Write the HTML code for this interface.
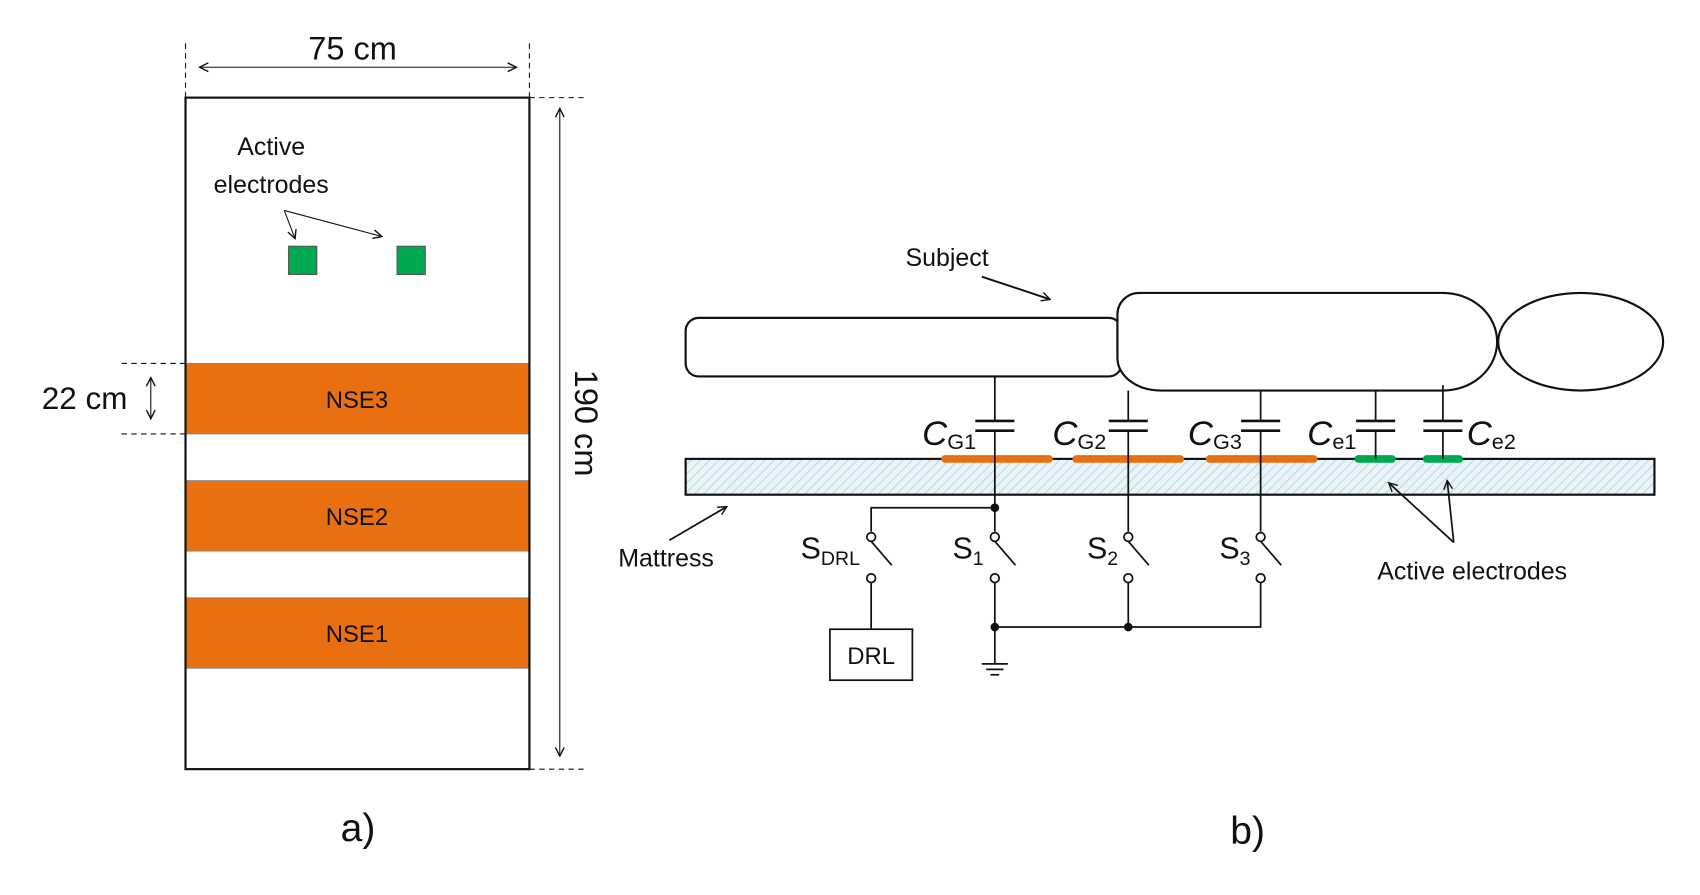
<!DOCTYPE html>
<html><head><meta charset="utf-8"><style>
html,body{margin:0;padding:0;background:#fff}
svg{display:block}
text{font-family:"Liberation Sans",sans-serif;fill:#111}
</style></head><body>
<svg width="1700" height="895" viewBox="0 0 1567 825" preserveAspectRatio="none" xmlns="http://www.w3.org/2000/svg">
<defs>
<pattern id="h" width="6" height="6" patternUnits="userSpaceOnUse" patternTransform="rotate(45)">
<rect width="6" height="6" fill="#eaf4f8"/><line x1="0" y1="0" x2="0" y2="6" stroke="#b8d8e6" stroke-width="2"/>
</pattern>
<marker id="a" markerWidth="10" markerHeight="10" refX="9" refY="5" orient="auto" markerUnits="userSpaceOnUse"><path d="M1,1 L9,5 L1,9" fill="none" stroke="#111" stroke-width="1.3"/></marker>
<marker id="as" markerWidth="10" markerHeight="10" refX="1" refY="5" orient="auto" markerUnits="userSpaceOnUse"><path d="M9,1 L1,5 L9,9" fill="none" stroke="#111" stroke-width="1.3"/></marker>
</defs>
<g stroke="#111" fill="none">
<line x1="171" y1="40" x2="171" y2="90" stroke-dasharray="5,4"/>
<line x1="488" y1="40" x2="488" y2="90" stroke-dasharray="5,4"/>
<line x1="184" y1="62" x2="476" y2="62" marker-start="url(#as)" marker-end="url(#a)"/>
<line x1="488" y1="90" x2="542" y2="90" stroke-dasharray="5,4"/>
<line x1="488" y1="709" x2="542" y2="709" stroke-dasharray="5,4"/>
<line x1="516" y1="100" x2="516" y2="697" marker-start="url(#as)" marker-end="url(#a)"/>
<rect x="171" y="335" width="317" height="65" fill="#e87010" stroke="#888" stroke-width="0.8"/>
<rect x="171" y="443" width="317" height="65" fill="#e87010" stroke="#888" stroke-width="0.8"/>
<rect x="171" y="551" width="317" height="65" fill="#e87010" stroke="#888" stroke-width="0.8"/>
<rect x="171" y="90" width="317" height="619" stroke-width="2"/>
<line x1="112" y1="335" x2="171" y2="335" stroke-dasharray="5,4"/>
<line x1="112" y1="400" x2="171" y2="400" stroke-dasharray="5,4"/>
<line x1="139" y1="348" x2="139" y2="386" marker-start="url(#as)" marker-end="url(#a)"/>
<rect x="266" y="227" width="26" height="26" fill="#00a84f" stroke="#555"/>
<rect x="366" y="227" width="26" height="26" fill="#00a84f" stroke="#555"/>
<polyline points="262,194 352,218" marker-end="url(#a)"/>
<line x1="262" y1="194" x2="272" y2="220" marker-end="url(#a)"/>
<rect x="632" y="293" width="402" height="54" rx="12" stroke-width="2" fill="#fff"/>
<path d="M1050,270 H1330 A50,45 0 0 1 1330,360 H1070 A40,30 0 0 1 1030,330 V290 A20,20 0 0 1 1050,270 Z" stroke-width="2" fill="#fff"/>
<ellipse cx="1457" cy="315" rx="76" ry="45" stroke-width="2"/>
<line x1="905" y1="255" x2="968" y2="276" stroke-width="1.8" marker-end="url(#a)"/>
<rect x="632" y="423" width="893" height="33" fill="url(#h)" stroke-width="2"/>
<g stroke-width="7" stroke-linecap="round">
<line x1="871" y1="423" x2="967" y2="423" stroke="#e87010"/>
<line x1="992" y1="423" x2="1088" y2="423" stroke="#e87010"/>
<line x1="1115" y1="423" x2="1211" y2="423" stroke="#e87010"/>
<line x1="1252" y1="423" x2="1283" y2="423" stroke="#00a84f"/>
<line x1="1315" y1="423" x2="1345" y2="423" stroke="#00a84f"/>
</g>
<g stroke-width="1.6">
<line x1="917" y1="347" x2="917" y2="388"/><line x1="917" y1="397" x2="917" y2="490"/>
<line x1="1040" y1="360" x2="1040" y2="388"/><line x1="1040" y1="397" x2="1040" y2="490"/>
<line x1="1162" y1="360" x2="1162" y2="388"/><line x1="1162" y1="397" x2="1162" y2="490"/>
<line x1="1268" y1="360" x2="1268" y2="388"/><line x1="1268" y1="397" x2="1268" y2="423"/>
<line x1="1330" y1="355" x2="1330" y2="388"/><line x1="1330" y1="397" x2="1330" y2="423"/>
</g>
<g stroke-width="2.5">
<line x1="899" y1="388" x2="935" y2="388"/><line x1="899" y1="397" x2="935" y2="397"/>
<line x1="1022" y1="388" x2="1058" y2="388"/><line x1="1022" y1="397" x2="1058" y2="397"/>
<line x1="1144" y1="388" x2="1180" y2="388"/><line x1="1144" y1="397" x2="1180" y2="397"/>
<line x1="1250" y1="388" x2="1286" y2="388"/><line x1="1250" y1="397" x2="1286" y2="397"/>
<line x1="1312" y1="388" x2="1348" y2="388"/><line x1="1312" y1="397" x2="1348" y2="397"/>
</g>
<g stroke-width="1.6">
<polyline points="917,468 803,468 803,490"/>
<line x1="803" y1="499" x2="822" y2="521"/><line x1="917" y1="499" x2="936" y2="521"/>
<line x1="1040" y1="499" x2="1059" y2="521"/><line x1="1162" y1="499" x2="1181" y2="521"/>
<circle cx="803" cy="495" r="4" fill="#fff"/><circle cx="917" cy="495" r="4" fill="#fff"/>
<circle cx="1040" cy="495" r="4" fill="#fff"/><circle cx="1162" cy="495" r="4" fill="#fff"/>
<circle cx="803" cy="533" r="4" fill="#fff"/><circle cx="917" cy="533" r="4" fill="#fff"/>
<circle cx="1040" cy="533" r="4" fill="#fff"/><circle cx="1162" cy="533" r="4" fill="#fff"/>
<line x1="803" y1="537" x2="803" y2="580"/>
<line x1="917" y1="537" x2="917" y2="612"/>
<line x1="1040" y1="537" x2="1040" y2="578"/>
<polyline points="1162,537 1162,578 917,578"/>
<line x1="905" y1="612" x2="929" y2="612"/><line x1="909" y1="617" x2="925" y2="617"/><line x1="913" y1="622" x2="921" y2="622"/>
</g>
<circle cx="917" cy="468" r="3.5" fill="#111"/><circle cx="917" cy="578" r="3.5" fill="#111"/><circle cx="1040" cy="578" r="3.5" fill="#111"/>
<rect x="765" y="580" width="76" height="47" stroke-width="1.6"/>
<line x1="617" y1="498" x2="670" y2="467" stroke-width="1.6" marker-end="url(#a)"/>
<line x1="1340" y1="500" x2="1280" y2="445" stroke-width="1.6" marker-end="url(#a)"/>
<line x1="1340" y1="500" x2="1334" y2="443" stroke-width="1.6" marker-end="url(#a)"/>
</g>
<text x="325" y="55" font-size="30" text-anchor="middle">75 cm</text>
<text x="250" y="143" font-size="23" text-anchor="middle">Active</text>
<text x="250" y="178" font-size="23" text-anchor="middle">electrodes</text>
<text x="329" y="376" font-size="22" text-anchor="middle">NSE3</text>
<text x="329" y="484" font-size="22" text-anchor="middle">NSE2</text>
<text x="329" y="592" font-size="22" text-anchor="middle">NSE1</text>
<text x="78" y="377" font-size="29" text-anchor="middle">22 cm</text>
<text transform="translate(530,390) rotate(90)" font-size="30" text-anchor="middle">190 cm</text>
<text x="330" y="775" font-size="36" text-anchor="middle">a)</text>
<text x="1150" y="778" font-size="36" text-anchor="middle">b)</text>
<text x="873" y="245" font-size="23" text-anchor="middle">Subject</text>
<text x="614" y="522" font-size="23" text-anchor="middle">Mattress</text>
<text x="1357" y="534" font-size="23" text-anchor="middle">Active electrodes</text>
<text x="850" y="410" font-size="32" font-style="italic">C<tspan font-size="20" font-style="normal" dy="4">G1</tspan></text>
<text x="970" y="410" font-size="32" font-style="italic">C<tspan font-size="20" font-style="normal" dy="4">G2</tspan></text>
<text x="1095" y="410" font-size="32" font-style="italic">C<tspan font-size="20" font-style="normal" dy="4">G3</tspan></text>
<text x="1205" y="410" font-size="32" font-style="italic">C<tspan font-size="20" font-style="normal" dy="4">e1</tspan></text>
<text x="1352" y="410" font-size="32" font-style="italic">C<tspan font-size="20" font-style="normal" dy="4">e2</tspan></text>
<text x="738" y="515" font-size="28">S<tspan font-size="18" dy="6">DRL</tspan></text>
<text x="878" y="515" font-size="28">S<tspan font-size="18" dy="6">1</tspan></text>
<text x="1002" y="515" font-size="28">S<tspan font-size="18" dy="6">2</tspan></text>
<text x="1124" y="515" font-size="28">S<tspan font-size="18" dy="6">3</tspan></text>
<text x="803" y="612" font-size="22" text-anchor="middle">DRL</text>
</svg>
</body></html>
